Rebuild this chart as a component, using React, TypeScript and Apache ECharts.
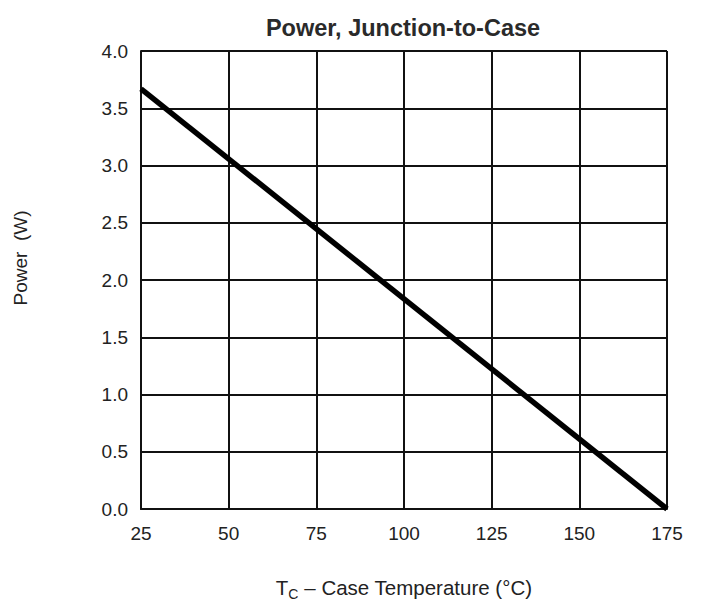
import React, { useEffect, useRef } from "react";
import * as echarts from "echarts";

const xTicks = [25, 50, 75, 100, 125, 150, 175];
const yTicks = [0, 0.5, 1.0, 1.5, 2.0, 2.5, 3.0, 3.5, 4.0];
const tempC = [25, 175];
const powerW = [3.67, 0];

export default function App() {
  const ref = useRef<HTMLDivElement>(null);
  useEffect(() => {
    if (!ref.current) return;
    const chart = echarts.init(ref.current, null, { renderer: "svg" });
    const font = "Liberation Sans, Arial, sans-serif";
    chart.setOption({
      animation: false,
      backgroundColor: "#fff",
      title: {
        text: "Power, Junction-to-Case",
        left: 398,
        textAlign: "center",
        top: 11,
        textStyle: { fontFamily: font, fontSize: 23.5, fontWeight: "bold", color: "#2a2a2a" },
      },
      grid: { left: 141, right: 34, top: 51, bottom: 94, show: false, outerBoundsMode: "none" },
      xAxis: {
        type: "value",
        min: xTicks[0],
        max: xTicks[xTicks.length - 1],
        interval: 25,
        name: "{t|T}{s|C}{t| – Case Temperature (°C)}",
        nameLocation: "middle",
        nameGap: 65,
        nameTextStyle: {
          fontFamily: font,
          rich: {
            t: { fontFamily: font, fontSize: 20.5, color: "#222" },
            s: { fontFamily: font, fontSize: 14, color: "#222", verticalAlign: "bottom", padding: [13, 0, 0, 0] },
          },
        },
        axisLine: { show: true, lineStyle: { color: "#111", width: 2 } },
        axisTick: { show: false },
        axisLabel: { fontFamily: font, fontSize: 19, color: "#222", margin: 15 },
        splitLine: { show: true, lineStyle: { color: "#111", width: 2 } },
      },
      yAxis: {
        type: "value",
        min: yTicks[0],
        max: yTicks[yTicks.length - 1],
        interval: 0.5,
        name: "Power  (W)",
        nameLocation: "middle",
        nameGap: 111,
        nameTextStyle: { fontFamily: font, fontSize: 19, color: "#222", padding: [0, 0, 0, 44] },
        axisLine: { show: true, lineStyle: { color: "#111", width: 2 } },
        axisTick: { show: false },
        axisLabel: {
          fontFamily: font,
          fontSize: 19,
          color: "#222",
          margin: 13,
          formatter: (v: number) => v.toFixed(1),
        },
        splitLine: { show: true, lineStyle: { color: "#111", width: 2 } },
      },
      series: [
        {
          type: "line",
          data: tempC.map((t, i) => [t, powerW[i]]),
          symbol: "none",
          lineStyle: { color: "#000", width: 5.5 },
          clip: false,
        },
      ],
    });
    return () => chart.dispose();
  }, []);
  return <div ref={ref} style={{ position: "absolute", left: 0, top: 0, width: 701, height: 603 }} />;
}
